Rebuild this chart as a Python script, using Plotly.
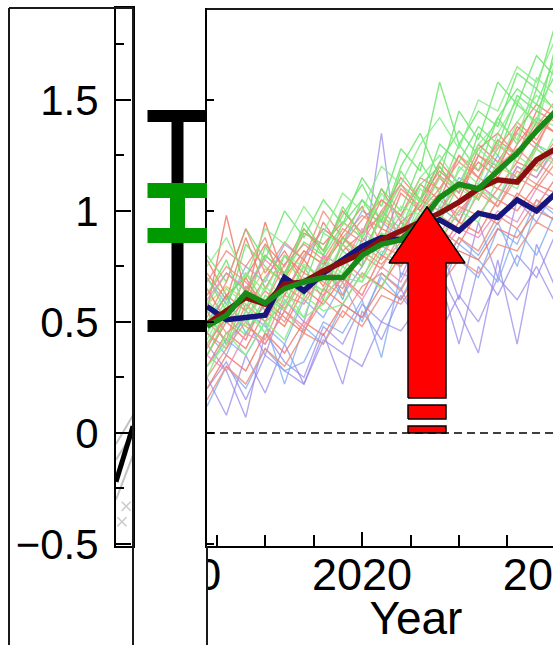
import plotly.graph_objects as go

# ---------------- data ----------------
years = list(range(2012, 2031))

ens_green = [
    [0.62,0.78,0.55,0.84,0.70,0.92,0.80,1.02,0.88,1.10,1.00,1.22,1.08,1.30,1.18,1.42,1.30,1.55,1.45],
    [0.45,0.60,0.72,0.58,0.80,0.66,0.90,0.85,1.05,0.92,1.18,1.05,1.30,1.22,1.38,1.30,1.52,1.45,1.62],
    [0.70,0.55,0.85,0.75,0.68,0.95,0.82,0.98,1.12,0.95,1.20,1.35,1.15,1.45,1.32,1.58,1.48,1.70,1.60],
    [0.35,0.52,0.44,0.62,0.55,0.70,0.64,0.82,0.75,0.90,0.86,1.00,0.95,1.12,1.05,1.22,1.15,1.30,1.25],
    [0.80,0.68,0.92,0.78,1.00,0.88,1.05,0.94,1.15,1.02,1.28,1.18,1.58,1.30,1.45,1.38,1.62,1.55,1.85],
    [0.55,0.40,0.62,0.50,0.58,0.75,0.60,0.88,0.78,1.00,0.92,1.12,1.20,1.08,1.35,1.25,1.48,1.40,1.75],
    [0.58,0.72,0.64,0.80,0.72,0.86,0.80,0.94,1.05,0.96,1.12,1.04,1.22,1.36,1.25,1.42,1.55,1.48,1.70],
    [0.25,0.45,0.35,0.50,0.42,0.62,0.55,0.58,0.72,0.65,0.85,0.78,0.98,0.90,1.10,1.05,1.25,1.18,1.35],
    [0.50,0.65,0.58,0.45,0.70,0.62,0.78,0.72,0.90,0.85,1.02,0.98,1.15,1.10,1.05,1.30,1.25,1.42,1.38],
    [0.60,0.50,0.72,0.64,0.80,0.75,0.70,0.95,0.88,1.08,0.96,1.15,1.25,1.12,1.30,1.40,1.32,1.60,1.52],
    [0.42,0.58,0.50,0.70,0.60,0.52,0.76,0.70,0.68,0.90,0.82,1.05,0.95,1.20,1.12,1.35,1.50,1.38,1.68],
    [0.75,0.88,0.70,0.92,0.85,1.02,0.90,1.08,1.00,1.20,1.12,1.30,1.42,1.28,1.50,1.45,1.65,1.58,1.78],
    [0.30,0.40,0.55,0.45,0.65,0.52,0.58,0.75,0.68,0.82,0.76,0.92,0.88,1.00,0.95,1.15,1.10,1.28,1.20],
    [0.40,0.55,0.48,0.66,0.58,0.76,0.70,0.85,0.78,0.98,0.90,1.10,1.02,1.18,1.28,1.20,1.40,1.52,1.46],
]
ens_red = [
    [0.55,0.98,0.62,0.80,0.72,0.90,0.85,0.95,0.88,1.05,0.98,1.12,1.05,1.25,1.15,1.32,1.25,1.40,1.35],
    [0.40,0.52,0.70,0.55,0.62,0.78,0.66,0.85,0.75,0.92,0.88,0.98,1.08,0.95,1.15,1.10,1.22,1.18,1.30],
    [0.65,0.50,0.60,0.95,0.70,0.82,0.76,0.90,1.02,0.85,1.08,1.00,1.15,1.05,1.25,1.18,1.38,1.30,1.45],
    [0.30,0.45,0.38,0.55,0.48,0.65,0.58,0.70,0.62,0.80,0.75,0.88,0.82,0.95,0.90,1.05,1.00,1.12,1.08],
    [0.48,0.62,0.55,0.70,0.82,0.68,0.75,0.88,0.80,0.98,0.90,1.05,1.18,1.10,1.22,1.15,1.30,1.42,1.35],
    [0.72,0.60,0.88,0.65,0.80,0.72,0.95,0.82,0.90,1.10,0.95,1.02,1.20,1.08,1.28,1.35,1.25,1.45,1.40],
    [0.20,0.35,0.28,0.45,0.36,0.50,0.44,0.58,0.52,0.66,0.60,0.74,0.70,0.82,0.78,0.92,0.88,1.00,0.96],
    [0.35,0.50,0.42,0.60,0.52,0.45,0.65,0.58,0.72,0.66,0.80,0.74,0.92,0.85,1.00,0.94,1.08,1.02,1.15],
    [0.78,0.62,0.70,0.85,0.75,0.92,0.82,1.00,0.90,0.98,1.15,1.05,1.22,1.12,1.30,1.22,1.36,1.48,1.42],
    [0.58,0.45,0.52,0.64,0.56,0.72,0.68,0.62,0.85,0.78,0.95,0.88,1.00,1.12,1.05,1.20,1.28,1.20,1.32],
    [0.38,0.55,0.48,0.42,0.62,0.58,0.72,0.65,0.82,0.76,0.86,0.95,0.90,1.02,0.98,1.10,1.06,1.22,1.15],
    [0.62,0.75,0.68,0.58,0.76,0.85,0.78,0.92,0.86,1.00,1.12,1.00,1.10,1.25,1.18,1.30,1.22,1.38,1.50],
    [0.15,0.30,0.22,0.38,0.30,0.45,0.40,0.55,0.48,0.62,0.58,0.70,0.66,0.78,0.72,0.85,0.82,0.95,0.90],
    [0.52,0.68,0.92,0.72,0.86,0.78,1.00,0.88,0.98,0.92,1.10,1.02,1.16,1.08,1.25,1.20,1.35,1.28,1.48],
    [0.45,0.38,0.58,0.50,0.66,0.60,0.74,0.68,0.80,0.74,0.90,0.85,0.98,0.92,1.08,1.02,1.15,1.10,1.22],
    [0.68,0.82,0.75,0.88,0.62,0.80,0.92,0.85,0.96,1.05,0.98,1.15,1.10,1.22,1.15,1.28,1.40,1.32,1.46],
    [0.25,0.38,0.50,0.40,0.55,0.46,0.60,0.52,0.66,0.72,0.64,0.80,0.74,0.88,0.82,0.98,0.92,1.05,1.00],
    [0.50,0.42,0.66,0.58,0.50,0.68,0.62,0.78,0.70,0.84,0.80,0.94,0.86,1.00,1.10,1.02,1.18,1.12,1.25],
]
ens_pink = [
    [0.35,0.28,0.45,0.40,0.55,0.48,0.62,0.70,0.60,0.75,0.68,0.85,0.80,0.92,0.88,1.00,0.95,1.10,1.05],
    [0.60,0.72,0.65,0.78,0.70,0.62,0.80,0.75,0.92,0.85,0.98,0.90,1.05,0.98,1.12,1.05,1.20,1.15,1.28],
]
ens_cyan = [
    [0.50,0.62,0.45,0.58,0.70,0.65,0.78,0.60,0.88,0.80,0.95,0.85,1.02,0.95,1.12,1.05,1.20,1.15,1.30],
]
ens_yellow = [
    [0.58,0.66,0.60,0.74,0.68,0.82,0.76,0.88,0.82,0.96,0.90,1.05,1.00,1.12,1.06,1.20,1.15,1.28,1.22],
]
ens_blue = [
    [0.30,0.42,0.35,0.50,0.22,0.48,0.40,0.58,0.52,0.70,0.60,0.78,0.72,0.88,0.80,0.95,0.75,1.02,0.95],
    [0.12,0.30,0.20,0.38,0.28,0.32,0.50,0.45,0.60,0.34,0.72,0.68,0.85,0.78,0.70,0.92,0.85,1.05,0.98],
    [0.70,0.58,0.75,0.68,0.85,0.78,0.92,0.85,1.00,0.95,0.88,1.05,1.00,1.15,1.10,1.25,1.12,1.30,1.22],
    [0.45,0.35,0.55,0.48,0.40,0.60,0.52,0.68,0.50,0.72,0.65,0.80,0.62,0.85,0.78,0.68,0.92,0.80,1.00],
]
ens_purple = [
    [0.25,0.08,0.35,0.18,0.40,0.22,0.45,0.22,0.55,0.42,0.62,0.50,0.72,0.55,0.36,0.78,0.40,0.85,0.65],
    [0.40,0.28,0.07,0.45,0.32,0.25,0.48,0.40,0.58,0.50,0.65,0.48,0.70,0.40,0.75,0.62,0.80,0.70,0.90],
    [0.55,0.40,0.52,0.35,0.60,0.50,0.80,0.62,0.75,1.35,0.70,0.90,0.85,0.60,0.95,0.70,1.05,0.95,1.10],
    [0.20,0.32,0.15,0.35,0.28,0.22,0.42,0.36,0.30,0.50,0.46,0.58,0.45,0.62,0.50,0.70,0.60,0.75,0.58],
]

thick_navy   = [0.57,0.51,0.52,0.53,0.70,0.64,0.72,0.78,0.84,0.88,0.87,0.92,0.96,0.91,0.99,0.97,1.05,1.00,1.08]
thick_maroon = [0.49,0.55,0.61,0.58,0.67,0.68,0.73,0.77,0.81,0.87,0.91,0.95,0.99,1.04,1.10,1.14,1.13,1.23,1.28]
thick_green  = [0.48,0.53,0.63,0.585,0.65,0.68,0.70,0.70,0.80,0.85,0.87,0.95,1.06,1.12,1.10,1.18,1.26,1.36,1.45]

# error bars in the gap panel (low, high)
err_black = [0.482, 1.428]
err_green = [0.889, 1.092]

# red arrow (year, values)
arrow_year = 2023.35
arrow_tip = 1.018
arrow_head_base = 0.766
arrow_shaft_bottom = 0.158
arrow_head_halfwidth = 1.96
arrow_shaft_halfwidth = 0.98
arrow_dashes = [[0.063, 0.126], [0.0, 0.032]]

# left (cropped) panel observations
obs_x = [0.0, 1.0]
obs_y = [-0.22, 0.03]
obs_grey_x = [[0.0, 1.0], [0.0, 1.0], [0.0, 1.0]]
obs_grey_y = [[-0.05, 0.08], [-0.30, -0.10], [-0.12, 0.0]]
obs_cross_x = [0.35, 0.6]
obs_cross_y = [-0.40, -0.33]

x_labels = [2010, 2020, 2030]
y_labels = [-0.5, 0, 0.5, 1, 1.5]
y_label_text = ["\u22120.5", "0", "0.5", "1", "1.5"]

# ---------------- layout helpers ----------------
W, H = 553, 645
def px(x):
    return x / W
def py(y):
    return 1 - y / H

Y_RANGE = [-0.509, 1.914]
Y_DOMAIN = [py(546), py(8)]
X_RANGE = [2012.0, 2029.85]
PX_PER_YEAR = (W - 207) / (X_RANGE[1] - X_RANGE[0])
FONT = "Liberation Sans, Arial, sans-serif"
XLAB_SIZE = 45

fig = go.Figure()

def add_ens(series, color, width=1.4, opacity=0.85):
    for s in series:
        fig.add_trace(go.Scatter(x=years, y=s, mode="lines",
                                 line=dict(color=color, width=width),
                                 opacity=opacity, hoverinfo="skip", showlegend=False))

add_ens(ens_purple, "#9486e8", opacity=0.7)
add_ens(ens_blue, "#7aa8f0", opacity=0.75)
add_ens(ens_cyan, "#55c8c8")
add_ens(ens_yellow, "#e6c860")
add_ens(ens_red[:9], "#f07c6c")
add_ens(ens_green[:7], "#6ee66e")
add_ens(ens_pink, "#f08cc0")
add_ens(ens_red[9:], "#ee907e")
add_ens(ens_green[7:], "#88ee88")

for vals, col in [(thick_navy, "#16167c"), (thick_maroon, "#8a1010"), (thick_green, "#178a17")]:
    fig.add_trace(go.Scatter(x=years, y=vals, mode="lines",
                             line=dict(color=col, width=5.5),
                             hoverinfo="skip", showlegend=False))

# arrow polygon
xl = arrow_year - arrow_shaft_halfwidth
xr = arrow_year + arrow_shaft_halfwidth
hl = arrow_year - arrow_head_halfwidth
hr = arrow_year + arrow_head_halfwidth
fig.add_trace(go.Scatter(
    x=[xl, xl, hl, arrow_year, hr, xr, xr, xl],
    y=[arrow_shaft_bottom, arrow_head_base, arrow_head_base, arrow_tip,
       arrow_head_base, arrow_head_base, arrow_shaft_bottom, arrow_shaft_bottom],
    mode="lines", fill="toself", fillcolor="#ff0000",
    line=dict(color="black", width=1.5), hoverinfo="skip", showlegend=False))
for lo, hi in arrow_dashes:
    fig.add_trace(go.Scatter(
        x=[xl, xl, xr, xr, xl], y=[lo, hi, hi, lo, lo],
        mode="lines", fill="toself", fillcolor="#ff0000",
        line=dict(color="black", width=1.5), hoverinfo="skip", showlegend=False))

# error bars in gap
for (lo, hi), col, th in [(err_black, "black", 12), (err_green, "#009a00", 15)]:
    mid = (lo + hi) / 2
    fig.add_trace(go.Scatter(
        x=[177.5], y=[mid], mode="markers", xaxis="x4", yaxis="y",
        marker=dict(size=1, color="rgba(0,0,0,0)"),
        error_y=dict(type="data", symmetric=False, array=[hi - mid], arrayminus=[mid - lo],
                     thickness=th, width=30, color=col),
        cliponaxis=False, hoverinfo="skip", showlegend=False))

# left panel content
for gx, gy in zip(obs_grey_x, obs_grey_y):
    fig.add_trace(go.Scatter(x=gx, y=gy, mode="lines", xaxis="x3", yaxis="y3",
                             line=dict(color="rgba(120,120,120,0.45)", width=2),
                             hoverinfo="skip", showlegend=False))
fig.add_trace(go.Scatter(x=obs_cross_x, y=obs_cross_y, mode="markers", xaxis="x3", yaxis="y3",
                         marker=dict(symbol="x-thin", size=9, line=dict(color="rgba(150,150,150,0.5)", width=1.5)),
                         hoverinfo="skip", showlegend=False))
fig.add_trace(go.Scatter(x=obs_x, y=obs_y, mode="lines", xaxis="x3", yaxis="y3",
                         line=dict(color="black", width=5),
                         hoverinfo="skip", showlegend=False))

# x tick labels: the outer ones are cut by the plot edges, as in the source figure
half_w = (4 * 0.556 * XLAB_SIZE / 2 + 3) / PX_PER_YEAR
lab_x, lab_pos = [], []
for v in x_labels:
    if v < X_RANGE[0]:
        lab_x.append(v + half_w); lab_pos.append("middle left")
    elif v > X_RANGE[1]:
        lab_x.append(v - half_w); lab_pos.append("middle right")
    else:
        lab_x.append(v); lab_pos.append("middle center")
fig.add_trace(go.Scatter(
    x=lab_x, y=[579] * len(x_labels), mode="text", text=[str(v) for v in x_labels],
    textposition=lab_pos, textfont=dict(family=FONT, size=XLAB_SIZE, color="black"),
    xaxis="x", yaxis="y2", cliponaxis=True, hoverinfo="skip", showlegend=False))
fig.add_trace(go.Scatter(
    x=[2022.78], y=[622], mode="text", text=["Year"],
    textposition="middle center", textfont=dict(family=FONT, size=46, color="black"),
    xaxis="x", yaxis="y2", cliponaxis=False, hoverinfo="skip", showlegend=False))

axis_common = dict(showgrid=False, zeroline=False, linecolor="black", automargin=False)

fig.update_layout(
    width=W, height=H, margin=dict(l=0, r=0, t=0, b=0, pad=0, autoexpand=False), autosize=False,
    paper_bgcolor="white", plot_bgcolor="rgba(0,0,0,0)", showlegend=False,
    font=dict(family=FONT, color="black"),
    xaxis=dict(domain=[px(207), 1], range=X_RANGE, anchor="y", showline=True, linewidth=2,
               ticks="inside", tickvals=[2020], ticklen=14, tickwidth=2, tickcolor="black",
               showticklabels=False,
               minor=dict(tickvals=[2012.5, 2015, 2017.5, 2022.5, 2025, 2027.5],
                          ticks="inside", ticklen=11, tickwidth=2, tickcolor="black"),
               **axis_common),
    yaxis=dict(domain=Y_DOMAIN, range=Y_RANGE, anchor="x", showline=True, linewidth=2,
               ticks="inside", tickvals=y_labels, ticklen=7, tickwidth=1.5, tickcolor="black",
               showticklabels=False, **axis_common),
    yaxis2=dict(domain=[0, 1], range=[H, 0], anchor="x", visible=False, **axis_common),
    xaxis3=dict(domain=[px(116), px(133)], range=[0, 1], anchor="y3", showline=True, mirror=True,
                linewidth=2, ticks="", showticklabels=False, **axis_common),
    yaxis3=dict(domain=Y_DOMAIN, range=Y_RANGE, anchor="x3", showline=True, mirror=True, linewidth=2,
                ticks="inside", tickvals=y_labels, ticktext=y_label_text, ticklen=15, tickwidth=2,
                tickcolor="black", ticklabelstandoff=7,
                tickfont=dict(family=FONT, size=42, color="black"),
                minor=dict(tickvals=[-0.25, 0.25, 0.75, 1.25, 1.75], ticks="inside",
                           ticklen=8, tickwidth=1.5, tickcolor="black"),
                **axis_common),
    xaxis4=dict(domain=[px(134), px(207)], range=[134, 207], anchor="y", visible=False, **axis_common),
)

line_style = dict(color="#1a1a1a", width=2)
shapes = [
    dict(type="line", xref="paper", yref="paper", x0=px(9), x1=px(9), y0=py(8), y1=0, line=line_style),
    dict(type="line", xref="paper", yref="paper", x0=px(9), x1=px(133), y0=py(8), y1=py(8), line=line_style),
    dict(type="line", xref="paper", yref="paper", x0=px(133), x1=px(133), y0=py(8), y1=0, line=line_style),
    dict(type="line", xref="paper", yref="paper", x0=px(207), x1=px(207), y0=py(546), y1=0, line=line_style),
    dict(type="line", xref="paper", yref="paper", x0=px(207), x1=1, y0=py(9), y1=py(9), line=line_style),
    dict(type="line", xref="x", yref="y", x0=X_RANGE[0], x1=X_RANGE[1], y0=0, y1=0,
         line=dict(color="black", width=1.3, dash="8px,5px"), layer="above"),
]
fig.update_layout(shapes=shapes)

page_css = (
    "var s=[document.documentElement, document.body];"
    "for (var i=0;i<s.length;i++){s[i].style.margin='0';s[i].style.padding='0';"
    "s[i].style.overflow='hidden';}"
)
fig.write_html("out.html", config={"displayModeBar": False}, post_script=page_css)
